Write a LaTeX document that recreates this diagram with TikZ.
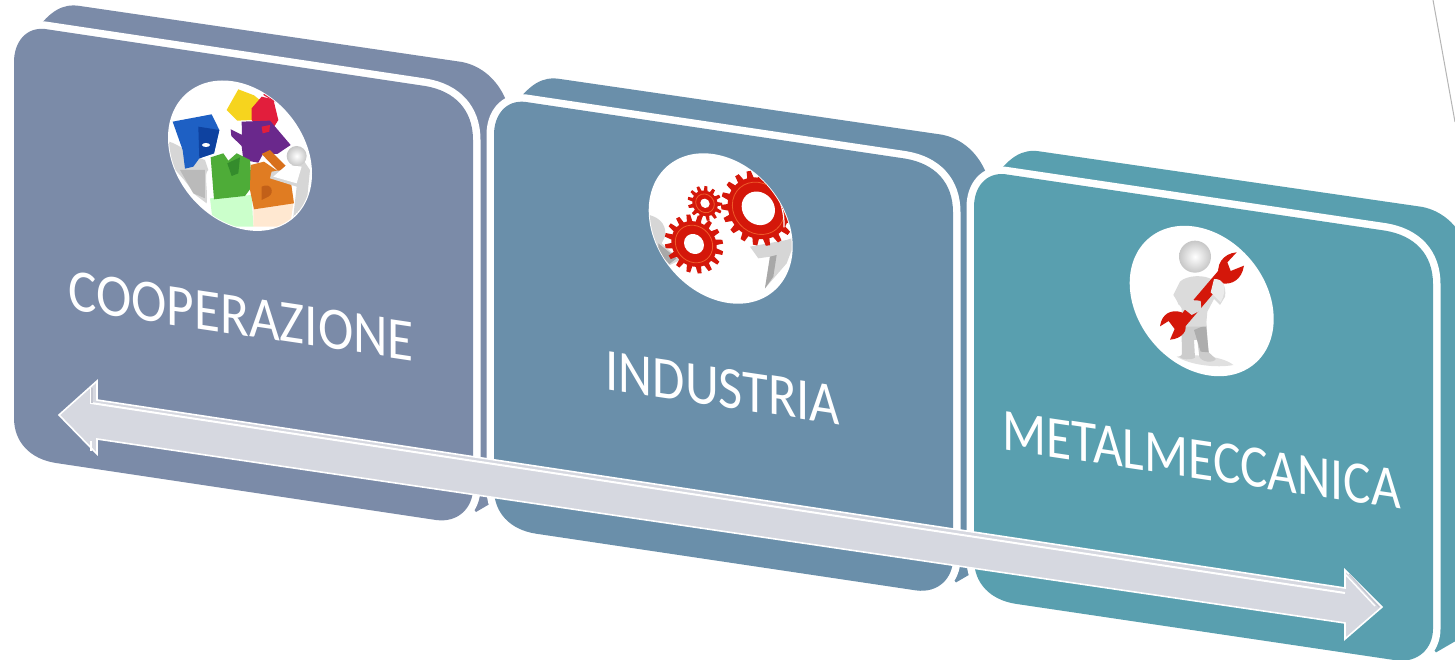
\documentclass[tikz,border=0pt]{standalone}
\usepackage{fontspec}
\setmainfont{Carlito}
\definecolor{slabA}{HTML}{7B8BA8}
\definecolor{slabB}{HTML}{6A8FAA}
\definecolor{slabC}{HTML}{599FAF}
\definecolor{arrowfill}{HTML}{D6D8E0}
\definecolor{arrowedge}{HTML}{C4C6D0}
\definecolor{cogred}{HTML}{D4170A}
\definecolor{cogglow}{HTML}{EE5A2A}
\definecolor{limb}{HTML}{D6D6D6}
\definecolor{limbdark}{HTML}{A8A8A8}
\tikzset{
  px/.style={x=1pt,y=-1pt},
  zoomed/.style={x=0.3333pt,y=-0.3333pt},
  labeltext/.style={text=white,inner sep=0pt,font=\fontsize{52}{52}\selectfont,transform shape},
  halo/.style={draw=white,line width=15pt,line join=round},
  arrowbody/.style={fill=arrowfill,draw=white,line width=1.6pt,line join=miter},
  highlight/.style={draw=white,line width=2pt},
  bevel/.style={draw=arrowedge,line width=1.2pt},
  plate/.style={fill=white},
  piece/.style={line join=round},
  headball/.style={inner color=white,outer color=black!22},
}
% one slab: back part, white halo, front face
\newcommand{\slabat}[4]{%
  \begin{scope}[shift={(#1,#2)},yscale=#4]
    \fill[#3] (36,30) .. controls (50,12) and (62,3) .. (80,6) -- (462,62)
      .. controls (482,66) and (497,80) .. (505,98) -- (505,495) -- (476,512) -- (300,300) -- cycle;
    \path[halo] (14,62) .. controls (14,42) and (26,27) .. (45,29) -- (425,86)
      .. controls (455,91) and (473,110) .. (473,140) -- (473,488)
      .. controls (473,508) and (458,523) .. (436,520) -- (56,463)
      .. controls (30,459) and (14,442) .. (14,418) -- cycle;
    \fill[#3] (14,62) .. controls (14,42) and (26,27) .. (45,29) -- (425,86)
      .. controls (455,91) and (473,110) .. (473,140) -- (473,488)
      .. controls (473,508) and (458,523) .. (436,520) -- (56,463)
      .. controls (30,459) and (14,442) .. (14,418) -- cycle;
  \end{scope}}
% a cog wheel centred at the origin of the current scope
\newcommand{\cogwheel}[6]{% teeth, outer, root, body ring, hole, rotation
  \fill[cogred] (#6:#3)
    \foreach \k in {1,...,#1} {
      -- ({#6+(\k-1)*360/#1+70/#1}:#3)
      -- ({#6+(\k-1)*360/#1+120/#1}:#2)
      -- ({#6+(\k-1)*360/#1+240/#1}:#2)
      -- ({#6+(\k-1)*360/#1+290/#1}:#3)
      -- ({#6+\k*360/#1}:#3)
    } -- cycle;
  \draw[cogglow,line width=0.8pt] (0,0) circle (#4);
  \fill[white] (0,0) circle (#5);
}
\begin{document}
\begin{tikzpicture}[px]
\useasboundingbox (0,0) rectangle (1455,660);
\clip (0,0) rectangle (1455,660);
\fill[white] (0,0) rectangle (1455,660);
\draw[limbdark!85,line width=1pt] (1433,0) -- (1455,122);

\slabat{0}{0}{slabA}{1}
\slabat{480}{73}{slabB}{0.995}
\slabat{960}{145.5}{slabC}{0.99}

% ---------- picture 1: puzzle
\begin{scope}[shift={(240,155.7)},yslant=-0.25]
  \fill[plate] (0,0) ellipse [x radius=72,y radius=73];
  \clip (0,0) ellipse [x radius=71,y radius=72];
  \begin{scope}[yslant=0.25,shift={(-110,-85.7)},zoomed]
    % soft floor tints
    \fill[green!45!white,opacity=.45] (240,385) -- (365,375) -- (370,470) -- (250,470) -- cycle;
    \fill[orange!40!white,opacity=.45] (370,410) -- (490,400) -- (480,470) -- (370,470) -- cycle;
    \fill[limb] (118,215) .. controls (150,225) and (190,260) .. (225,270) -- (235,300)
      .. controls (220,310) and (235,360) .. (230,400) -- (190,370)
      .. controls (170,330) and (130,300) .. (115,270) -- cycle;
    \fill[limbdark,opacity=.6] (150,300) -- (225,300) -- (225,385) -- (190,370) -- cycle;
    % puzzle pieces
    \fill[piece,fill={rgb,255:red,226;green,30;blue,60}] (405,65) -- (460,98) -- (452,105) -- (400,75) -- cycle;
    \fill[piece,fill={rgb,255:red,30;green,96;blue,196}] (128,155) -- (245,133) -- (268,180) -- (252,250) -- (208,265)
      -- (190,290) -- (165,296) -- (158,240) -- cycle;
    \fill[piece,fill={rgb,255:red,14;green,66;blue,160}] (205,170) -- (268,180) -- (252,250) -- (208,265) -- cycle;
    \fill[white] (228,225) ellipse [x radius=12,y radius=6];
    \fill[piece,fill={rgb,255:red,246;green,212;blue,30}] (290,120) -- (325,58) -- (372,76) -- (392,92) -- (368,150) -- (322,152) -- cycle;
    \fill[piece,fill={rgb,255:red,226;green,30;blue,60}] (365,115) -- (395,80) -- (430,88) -- (445,150) -- (420,190) -- (395,192) -- (365,150) -- cycle;
    \fill[piece,fill={rgb,255:red,106;green,40;blue,140}] (335,155) -- (420,152) -- (482,225) -- (442,252) -- (400,250) -- (385,278) -- (340,270)
      -- (335,228) -- (304,198) -- (302,178) -- (336,195) -- cycle;
    \fill[piece,fill={rgb,255:red,226;green,30;blue,60}] (395,170) -- (420,165) -- (418,185) -- (398,190) -- cycle;
    \fill[piece,fill={rgb,255:red,78;green,172;blue,56}] (242,262) -- (280,250) -- (295,272) -- (320,250) -- (360,270) -- (366,350) -- (345,378) -- (252,388) -- cycle;
    \fill[piece,fill={rgb,255:red,52;green,140;blue,44}] (292,280) -- (330,262) -- (325,310) -- (305,318) -- cycle;
    \fill[piece,fill={rgb,255:red,224;green,124;blue,34}] (362,285) -- (402,275) -- (482,330) -- (492,400) -- (372,418) -- (360,360) -- cycle;
    \fill[piece,fill={rgb,255:red,194;green,96;blue,24}] (395,350) .. controls (425,335) and (435,370) .. (415,380) -- (395,390) -- cycle;
    \fill[piece,fill={rgb,255:red,216;green,112;blue,28}] (395,252) -- (420,240) -- (492,312) -- (462,322) -- cycle;
    % figure at the right
    \fill[limb] (460,300) -- (520,270) -- (540,300) -- (530,400) -- (490,440) -- (500,350) -- (420,325) -- (425,305) -- cycle;
    \fill[white] (470,285) -- (515,290) -- (500,340) -- (430,320) -- cycle;
    \shade[headball] (500,258) circle (30);
  \end{scope}
\end{scope}
\node[inner sep=0pt,minimum size=0pt] (puzzle) at (240,155.7) {};

% ---------- picture 2: cogs
\begin{scope}[shift={(720.7,228.5)},yslant=-0.25]
  \fill[plate] (0,0) ellipse [x radius=72,y radius=73];
  \clip (0,0) ellipse [x radius=71,y radius=72];
  \begin{scope}[yslant=0.25,shift={(-90.7,-88.5)},zoomed]
    \fill[limb] (58,225) .. controls (95,235) and (110,260) .. (105,290) -- (95,310) -- (150,360) -- (120,375) -- (70,330) -- cycle;
    \fill[limbdark] (85,310) -- (140,355) -- (118,372) -- (85,335) -- cycle;
    \fill[limb] (360,320) -- (470,300) -- (500,290) -- (470,370) -- (405,445) -- (420,350) -- (385,355) -- cycle;
    \fill[limbdark] (405,445) -- (420,350) -- (440,345) -- (430,410) -- cycle;
    \begin{scope}[shift={(385,205)},yslant=-0.12]\cogwheel{18}{112}{92}{78}{50}{5}\end{scope}
    \begin{scope}[shift={(225,190)},yslant=-0.12]\cogwheel{13}{52}{38}{28}{14}{10}\end{scope}
    \begin{scope}[shift={(192,312)},yslant=-0.12]\cogwheel{16}{88}{68}{56}{30}{0}\end{scope}
    \draw[white,line width=1.2pt] (380,92) .. controls (430,130) and (465,190) .. (462,262);
  \end{scope}
\end{scope}
\node[inner sep=0pt,minimum size=0pt] (cogs) at (720.7,228.5) {};

% ---------- picture 3: figure and spanner
\begin{scope}[shift={(1201.7,301)},yslant=-0.25]
  \fill[plate] (0,0) ellipse [x radius=72,y radius=73];
\end{scope}
\begin{scope}[shift={(1110,215)},zoomed]
  \fill[black!12] (200,425) .. controls (260,415) and (340,425) .. (370,450) .. controls (320,460) and (240,450) .. (200,425) -- cycle;
  % legs
  \fill[black!20] (215,320) .. controls (212,360) and (218,395) .. (215,420) -- (208,425) .. controls (212,434) and (245,436) .. (255,428)
     -- (252,375) -- (262,375) -- (268,425) .. controls (275,442) and (310,445) .. (318,432) -- (296,412)
     .. controls (292,385) and (292,350) .. (288,320) -- cycle;
  \fill[black!32] (252,345) -- (288,330) -- (296,412) -- (272,410) -- cycle;
  % torso and arms
  \fill[black!14] (210,200) .. controls (230,180) and (285,178) .. (308,195) .. controls (335,185) and (350,215) .. (345,245)
     -- (330,270) -- (312,252) -- (292,290) -- (288,335) -- (215,335) -- (215,280) -- (190,240) -- cycle;
  \draw[cogred,line width=11pt] (208,330) -- (340,175);
  \fill[cogred] (330,195) .. controls (312,150) and (340,115) .. (380,112) -- (352,142) -- (362,168) -- (402,152)
     .. controls (395,195) and (365,210) .. (335,205) -- cycle;
  \fill[cogred] (220,318) .. controls (240,345) and (215,372) .. (180,374) -- (194,342) -- (176,318) -- (150,334)
     .. controls (155,295) and (185,282) .. (215,292) -- cycle;
  % fingers over the spanner
  \fill[black!8] (312,192) .. controls (345,190) and (352,225) .. (332,262) -- (302,232) -- cycle;
  \fill[black!14] (195,240) .. controls (215,262) and (245,252) .. (272,258) -- (274,285) -- (245,300) -- (205,268) -- cycle;
  \shade[headball] (255,125) circle (48);
\end{scope}
\node[inner sep=0pt,minimum size=0pt] (figure) at (1201.7,301) {};

% ---------- labels
\begin{scope}[shift={(241,316)},yslant=-0.149,xscale=1.024,yscale=1.15]
  \node[labeltext] (lab1) at (0,0) {COOPERAZIONE};
\end{scope}
\begin{scope}[shift={(723,388)},yslant=-0.149,xscale=1.01,yscale=1.15]
  \node[labeltext] (lab2) at (0,0) {INDUSTRIA};
\end{scope}
\begin{scope}[shift={(1202,460)},yslant=-0.149,xscale=0.99,yscale=1.15]
  \node[labeltext] (lab3) at (0,0) {METALMECCANICA};
\end{scope}

% ---------- long double arrow
\path[arrowbody] (59,415) -- (97,381) -- (97,400) -- (1345,588) -- (1345,570) -- (1382,607)
  -- (1345,639) -- (1345,623) -- (97,439) -- (97,454) -- cycle;
\draw[highlight] (91,388) -- (91,403) -- (1345,593) ;
\draw[highlight,line width=1.4pt] (1345,574) -- (1375,606);
\draw[bevel] (1349,574) -- (1379,607);
\draw[bevel] (92,388) -- (92,403);
\draw[highlight,line width=1.4pt] (91,441) -- (91,451);
\end{tikzpicture}
\end{document}
